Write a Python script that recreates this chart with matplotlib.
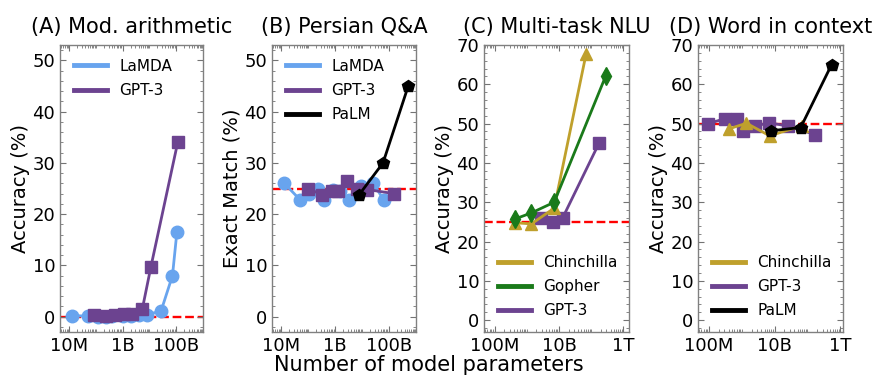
import matplotlib
matplotlib.use("Agg")
import matplotlib.pyplot as plt
from matplotlib.lines import Line2D
from matplotlib.ticker import FixedLocator, LogLocator, AutoMinorLocator, NullFormatter

# ---------------- data ----------------
# (A) Modified arithmetic
lamda_A_params = [1.3e7, 5.2e7, 1.25e8, 2.4e8, 4.2e8, 1.0e9, 2.0e9, 4.0e9, 8.6e9, 2.8e10, 7.5e10, 1.1e11]
lamda_A_acc = [0.2, 0.1, 0.0, 0.0, 0.1, 0.1, 0.2, 0.3, 0.4, 1.1, 8.0, 16.5]
gpt3_A_params = [8.5e7, 2.3e8, 5.4e8, 1.1e9, 2.3e9, 5.5e9, 1.15e10, 1.18e11]
gpt3_A_acc = [0.3, 0.2, 0.4, 0.6, 0.5, 1.4, 9.6, 34.0]

# (B) Persian QA
lamda_B_params = [1.3e7, 5.0e7, 1.1e8, 2.4e8, 3.9e8, 8.5e8, 1.55e9, 3.4e9, 9.5e9, 2.7e10, 6.5e10]
lamda_B_em = [26.0, 22.8, 24.0, 25.0, 22.8, 24.8, 24.5, 22.8, 25.5, 26.0, 22.8]
gpt3_B_params = [1.0e8, 3.2e8, 7.6e8, 1.3e9, 2.7e9, 6.7e9, 1.6e10, 1.6e11]
gpt3_B_em = [25.0, 23.8, 24.5, 24.5, 26.5, 25.0, 24.8, 24.0]
palm_B_params = [8.0e9, 6.2e10, 5.4e11]
palm_B_em = [23.8, 30.0, 45.0]

# (C) Multi-task NLU
chin_C_params = [4.17e8, 1.4e9, 7.1e9, 7.0e10]
chin_C_acc = [24.8, 24.5, 28.5, 67.8]
gopher_C_params = [4.17e8, 1.4e9, 7.1e9, 2.8e11]
gopher_C_acc = [25.7, 27.3, 30.0, 62.0]
gpt3_C_params = [2.7e9, 6.7e9, 1.3e10, 1.75e11]
gpt3_C_acc = [25.9, 24.9, 26.0, 45.0]

# (D) Word in context
chin_D_params = [4.17e8, 1.4e9, 7.1e9, 7.0e10]
chin_D_acc = [48.7, 50.1, 46.9, 49.5]
gpt3_D_params = [9.5e7, 3.2e8, 7.2e8, 1.1e9, 2.5e9, 6.9e9, 2.5e10, 1.75e11]
gpt3_D_acc = [50.0, 51.3, 51.3, 48.0, 49.4, 50.2, 49.4, 47.2]
palm_D_params = [8.0e9, 6.2e10, 5.4e11]
palm_D_acc = [48.2, 49.0, 65.0]

random_A, random_B, random_C, random_D = 0, 25, 25, 50

titles = ["(A) Mod. arithmetic", "(B) Persian Q&A", "(C) Multi-task NLU", "(D) Word in context"]
ylabels = ["Accuracy (%)", "Exact Match (%)", "Accuracy (%)", "Accuracy (%)"]
xticks_small = [1e7, 1e9, 1e11]
xticklabels_small = ["10M", "1B", "100B"]
xticks_large = [1e8, 1e10, 1e12]
xticklabels_large = ["100M", "10B", "1T"]

# ---------------- style ----------------
C_LAMDA = "#68A4EE"
C_GPT3 = "#6C4390"
C_PALM = "black"
C_CHIN = "#BFA02C"
C_GOPHER = "#1A7A1A"
LW = 2.0
MS = 9

fig = plt.figure(figsize=(8.75, 3.75), dpi=100)
W, H = 875, 375
boxes = [(60, 203), (272, 416), (484, 629), (698, 843)]
top, bottom = 45, 332
axes = []
for (l, r) in boxes:
    ax = fig.add_axes([l / W, (H - bottom) / H, (r - l) / W, (bottom - top) / H])
    axes.append(ax)

def style(ax, title, ylabel, xlim, ylim, yticks, xt, xtl):
    ax.set_xscale("log")
    ax.set_xlim(*xlim)
    ax.set_ylim(*ylim)
    ax.set_yticks(yticks)
    ax.xaxis.set_major_locator(FixedLocator(xt))
    ax.set_xticklabels(xtl)
    ax.xaxis.set_minor_locator(LogLocator(base=10, subs=[1, 2, 3, 4, 5, 6, 7, 8, 9], numticks=50))
    ax.xaxis.set_minor_formatter(NullFormatter())
    ax.yaxis.set_minor_locator(AutoMinorLocator(5))
    ax.tick_params(which="both", direction="in", top=True, right=True, color="0.45", labelsize=13)
    ax.tick_params(which="major", length=4, width=0.8)
    ax.tick_params(which="minor", length=2, width=0.6)
    for s in ax.spines.values():
        s.set_color("0.5")
        s.set_linewidth(1.0)
    ax.set_title(title, fontsize=15, pad=9)
    ax.set_ylabel(ylabel, fontsize=14, labelpad=2)

def leg(ax, items, loc):
    handles = [Line2D([0], [0], color=c, lw=3.5) for c, _ in items]
    ax.legend(handles, [n for _, n in items], loc=loc, frameon=False, fontsize=11,
              handlelength=2.2, labelspacing=0.6)

# A
ax = axes[0]
ax.axhline(random_A, color="red", ls="--", lw=1.7, zorder=1)
ax.plot(lamda_A_params, lamda_A_acc, "-o", color=C_LAMDA, lw=LW, ms=MS, zorder=3)
ax.plot(gpt3_A_params, gpt3_A_acc, "-s", color=C_GPT3, lw=LW, ms=MS, zorder=3)
style(ax, titles[0], ylabels[0], (4.5e6, 1.05e12), (-3, 53), range(0, 51, 10), xticks_small, xticklabels_small)
leg(ax, [(C_LAMDA, "LaMDA"), (C_GPT3, "GPT-3")], "upper left")

# B
ax = axes[1]
ax.axhline(random_B, color="red", ls="--", lw=1.7, zorder=1)
ax.plot(lamda_B_params, lamda_B_em, "-o", color=C_LAMDA, lw=LW, ms=MS, zorder=3)
ax.plot(gpt3_B_params, gpt3_B_em, "-s", color=C_GPT3, lw=LW, ms=MS, zorder=3)
ax.plot(palm_B_params, palm_B_em, "-p", color=C_PALM, lw=LW, ms=MS, zorder=4)
style(ax, titles[1], ylabels[1], (4.5e6, 1.05e12), (-3, 53), range(0, 51, 10), xticks_small, xticklabels_small)
leg(ax, [(C_LAMDA, "LaMDA"), (C_GPT3, "GPT-3"), (C_PALM, "PaLM")], "upper left")

# C
ax = axes[2]
ax.axhline(random_C, color="red", ls="--", lw=1.7, zorder=1)
ax.plot(gpt3_C_params, gpt3_C_acc, "-s", color=C_GPT3, lw=LW, ms=MS, zorder=3)
ax.plot(chin_C_params, chin_C_acc, "-^", color=C_CHIN, lw=LW, ms=MS, zorder=3)
ax.plot(gopher_C_params, gopher_C_acc, "-d", color=C_GOPHER, lw=LW, ms=MS, zorder=4)
style(ax, titles[2], ylabels[2], (4.7e7, 1.5e12), (-3, 70), range(0, 71, 10), xticks_large, xticklabels_large)
leg(ax, [(C_CHIN, "Chinchilla"), (C_GOPHER, "Gopher"), (C_GPT3, "GPT-3")], "lower left")

# D
ax = axes[3]
ax.axhline(random_D, color="red", ls="--", lw=1.7, zorder=1)
ax.plot(gpt3_D_params, gpt3_D_acc, "-s", color=C_GPT3, lw=LW, ms=MS, zorder=3)
ax.plot(chin_D_params, chin_D_acc, "-^", color=C_CHIN, lw=LW, ms=MS, zorder=3)
ax.plot(palm_D_params, palm_D_acc, "-p", color=C_PALM, lw=LW, ms=MS, zorder=4)
style(ax, titles[3], ylabels[3], (4.7e7, 1.2e12), (-3, 70), range(0, 71, 10), xticks_large, xticklabels_large)
leg(ax, [(C_CHIN, "Chinchilla"), (C_GPT3, "GPT-3"), (C_PALM, "PaLM")], "lower left")

fig.text(428.5 / W, 1 - 365 / H, "Number of model parameters", ha="center", va="center", fontsize=15)

fig.savefig("out.png", dpi=100)
